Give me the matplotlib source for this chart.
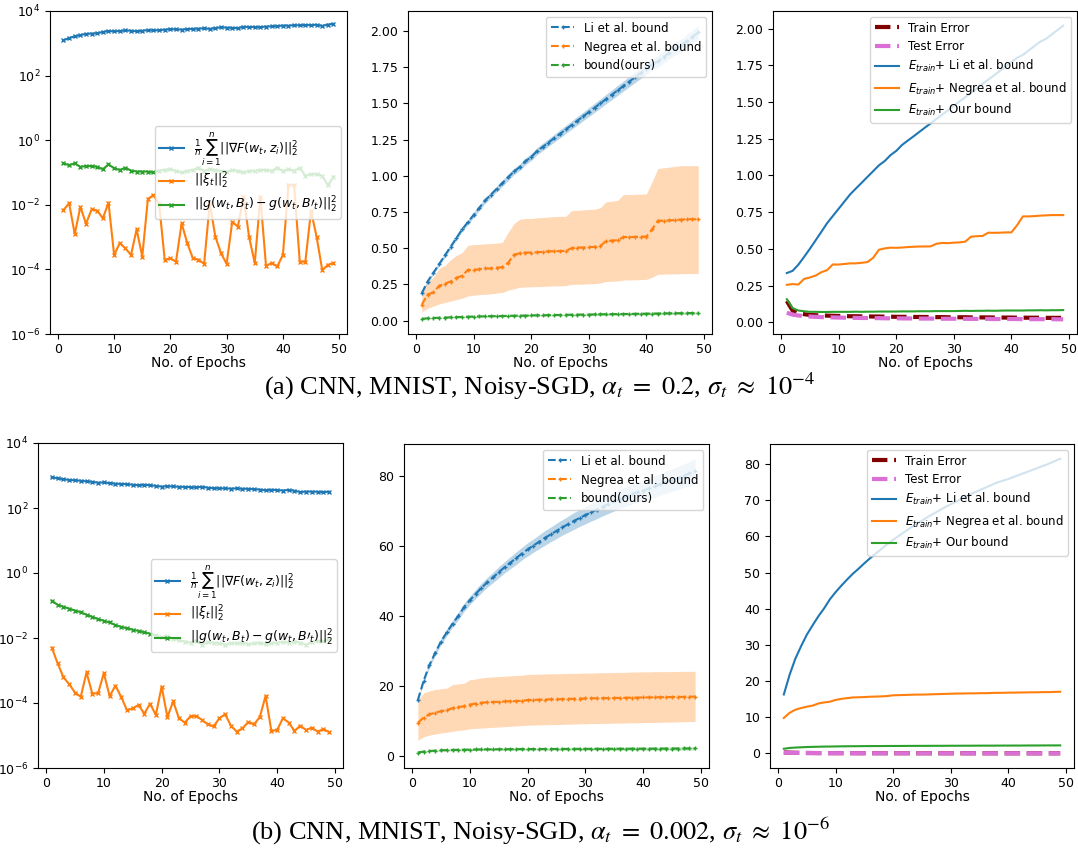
import numpy as np
import matplotlib
matplotlib.use("Agg")
import matplotlib.pyplot as plt
from matplotlib.ticker import NullLocator

# epochs on the x axis of every panel
epochs = list(range(1, 50))

# ---------------- (a) alpha_t = 0.2 ----------------
# left panel (log scale)
grad_a = [1250, 1450, 1650, 1800, 1950, 2000, 2050, 2250, 2400, 2350, 2400, 2500, 2450, 2350, 2450,
          2550, 2500, 2550, 2650, 2750, 2700, 2650, 2750, 2800, 2850, 2900, 2800, 2950, 3150, 3050,
          3000, 2950, 3250, 3200, 3200, 3150, 3300, 3350, 3400, 3550, 3500, 3650, 3600, 3700, 3650,
          3750, 3450, 3800, 4000]
xi_a = [6.9e-3, 1.12e-2, 1.23e-3, 8.7e-3, 2.6e-3, 7.2e-3, 6.6e-3, 3.8e-3, 1.17e-2, 2.8e-4,
        6.5e-4, 4.5e-4, 2.8e-4, 1.74e-3, 2.5e-4, 1.51e-2, 2.0e-2, 1.05e-2, 1.95e-4, 2.2e-4,
        1.74e-4, 2.7e-3, 6.5e-4, 2.2e-4, 2.0e-4, 1.48e-4, 1.12e-2, 1.02e-3, 3.2e-4, 1.48e-4,
        3.0e-3, 2.1e-3, 1.78e-2, 1.0e-3, 1.58e-4, 1.7e-2, 1.29e-4, 1.58e-4, 1.23e-4, 2.8e-4,
        4.1e-2, 4.1e-2, 1.74e-4, 1.74e-4, 6.5e-3, 1.02e-3, 9.5e-5, 1.38e-4, 1.58e-4]
gdiff_a = [0.19, 0.17, 0.19, 0.15, 0.158, 0.158, 0.15, 0.126, 0.178, 0.135, 0.12, 0.14, 0.115, 0.107,
           0.107, 0.107, 0.1, 0.115, 0.12, 0.126, 0.112, 0.1, 0.112, 0.12, 0.14, 0.112, 0.126, 0.12,
           0.112, 0.105, 0.12, 0.112, 0.1, 0.112, 0.112, 0.12, 0.12, 0.112, 0.14, 0.112, 0.126, 0.112,
           0.14, 0.079, 0.089, 0.089, 0.079, 0.04, 0.074]

# middle panel (bounds)
li_a = [0.19, 0.27, 0.33, 0.39, 0.45, 0.51, 0.57, 0.63, 0.68, 0.73, 0.78, 0.83, 0.87, 0.91, 0.95,
        0.99, 1.03, 1.06, 1.10, 1.13, 1.17, 1.20, 1.23, 1.26, 1.29, 1.32, 1.35, 1.38, 1.41, 1.44,
        1.47, 1.50, 1.53, 1.56, 1.59, 1.62, 1.65, 1.68, 1.71, 1.74, 1.77, 1.79, 1.82, 1.85, 1.88,
        1.90, 1.93, 1.96, 1.99]
li_sd_a = [0.01, 0.01, 0.012, 0.012, 0.014, 0.014, 0.015, 0.016, 0.017, 0.018, 0.018, 0.019, 0.02,
           0.02, 0.021, 0.022, 0.022, 0.023, 0.024, 0.024, 0.025, 0.026, 0.026, 0.027, 0.028, 0.028,
           0.029, 0.03, 0.03, 0.031, 0.032, 0.032, 0.033, 0.034, 0.035, 0.035, 0.036, 0.037, 0.038,
           0.038, 0.039, 0.04, 0.041, 0.042, 0.043, 0.044, 0.045, 0.046, 0.047]
neg_a = [0.11, 0.18, 0.195, 0.24, 0.255, 0.27, 0.295, 0.31, 0.35, 0.35, 0.355, 0.36, 0.36, 0.365,
         0.37, 0.40, 0.455, 0.465, 0.47, 0.47, 0.472, 0.475, 0.478, 0.48, 0.48, 0.482, 0.50, 0.505,
         0.505, 0.508, 0.51, 0.515, 0.55, 0.553, 0.555, 0.577, 0.577, 0.578, 0.58, 0.58, 0.63, 0.69,
         0.69, 0.692, 0.695, 0.698, 0.70, 0.70, 0.70]
neg_hi_a = [0.18, 0.27, 0.30, 0.36, 0.38, 0.42, 0.45, 0.47, 0.52, 0.525, 0.527, 0.53, 0.532, 0.535,
            0.54, 0.61, 0.67, 0.70, 0.705, 0.705, 0.71, 0.712, 0.715, 0.718, 0.72, 0.72, 0.76, 0.762,
            0.765, 0.767, 0.77, 0.78, 0.82, 0.825, 0.83, 0.87, 0.87, 0.872, 0.874, 0.875, 0.96, 1.05,
            1.055, 1.06, 1.065, 1.07, 1.07, 1.07, 1.07]
neg_lo_a = [0.06, 0.085, 0.10, 0.115, 0.125, 0.135, 0.145, 0.155, 0.17, 0.175, 0.18, 0.182, 0.185,
            0.19, 0.195, 0.21, 0.22, 0.23, 0.232, 0.234, 0.235, 0.236, 0.238, 0.24, 0.24, 0.242,
            0.25, 0.251, 0.252, 0.254, 0.256, 0.26, 0.27, 0.272, 0.274, 0.28, 0.281, 0.282, 0.283,
            0.285, 0.30, 0.32, 0.321, 0.322, 0.323, 0.324, 0.325, 0.325, 0.325]
ours_a = [0.012, 0.016, 0.018, 0.020, 0.021, 0.023, 0.024, 0.025, 0.027, 0.028, 0.029, 0.030, 0.031,
          0.031, 0.032, 0.033, 0.034, 0.035, 0.035, 0.036, 0.037, 0.037, 0.038, 0.039, 0.039, 0.040,
          0.041, 0.041, 0.042, 0.042, 0.043, 0.044, 0.044, 0.045, 0.045, 0.046, 0.046, 0.047, 0.048,
          0.048, 0.049, 0.049, 0.050, 0.050, 0.051, 0.051, 0.052, 0.052, 0.053]
ours_sd_a = [0.003, 0.003, 0.003, 0.003, 0.004, 0.004, 0.004, 0.004, 0.004, 0.004, 0.005, 0.005,
             0.005, 0.005, 0.005, 0.005, 0.005, 0.005, 0.006, 0.006, 0.006, 0.006, 0.006, 0.006,
             0.006, 0.006, 0.006, 0.007, 0.007, 0.007, 0.007, 0.007, 0.007, 0.007, 0.007, 0.007,
             0.007, 0.008, 0.008, 0.008, 0.008, 0.008, 0.008, 0.008, 0.008, 0.008, 0.008, 0.008, 0.008]

# right panel (errors)
train_a = [0.145, 0.08, 0.062, 0.055, 0.05, 0.048, 0.046, 0.045, 0.044, 0.043, 0.042, 0.041, 0.041,
           0.040, 0.040, 0.039, 0.039, 0.038, 0.038, 0.037, 0.037, 0.037, 0.036, 0.036, 0.036, 0.035,
           0.035, 0.035, 0.034, 0.034, 0.034, 0.034, 0.033, 0.033, 0.033, 0.033, 0.032, 0.032, 0.032,
           0.032, 0.031, 0.031, 0.031, 0.031, 0.031, 0.030, 0.030, 0.030, 0.030]
test_a = [0.065, 0.052, 0.046, 0.042, 0.039, 0.037, 0.035, 0.034, 0.033, 0.032, 0.031, 0.030, 0.030,
          0.029, 0.029, 0.028, 0.028, 0.027, 0.027, 0.027, 0.026, 0.026, 0.026, 0.025, 0.025, 0.025,
          0.025, 0.024, 0.024, 0.024, 0.024, 0.023, 0.023, 0.023, 0.023, 0.023, 0.022, 0.022, 0.022,
          0.022, 0.022, 0.021, 0.021, 0.021, 0.021, 0.021, 0.021, 0.020, 0.020]

# ---------------- (b) alpha_t = 0.002 ----------------
grad_b = [880, 820, 770, 730, 710, 690, 660, 640, 600, 610, 580, 560, 550, 540, 520, 500, 520, 500,
          480, 455, 470, 460, 450, 445, 440, 430, 450, 420, 410, 405, 400, 395, 400, 390, 390, 380,
          370, 350, 365, 355, 345, 360, 340, 310, 320, 320, 315, 310, 316]
xi_b = [5.0e-3, 1.66e-3, 6.2e-4, 3.8e-4, 2.1e-4, 1.55e-4, 8.7e-4, 1.95e-4, 2.0e-4, 8.3e-4,
        1.62e-4, 3.4e-4, 1.55e-4, 6.0e-5, 6.8e-5, 8.7e-5, 4.7e-5, 9.5e-5, 4.3e-5, 3.2e-4,
        3.7e-5, 1.12e-4, 3.4e-5, 2.5e-5, 3.9e-5, 4.0e-5, 3.0e-5, 2.2e-5, 1.9e-5, 3.4e-5,
        4.5e-5, 2.0e-5, 1.32e-5, 1.66e-5, 2.6e-5, 2.2e-5, 3.7e-5, 1.66e-4, 1.38e-5, 1.48e-5,
        3.4e-5, 2.5e-5, 1.38e-5, 2.0e-5, 1.48e-5, 1.74e-5, 1.32e-5, 1.58e-5, 1.26e-5]
gdiff_b = [0.14, 0.105, 0.092, 0.08, 0.07, 0.062, 0.052, 0.045, 0.038, 0.034, 0.030, 0.025, 0.022,
           0.020, 0.018, 0.0165, 0.015, 0.0135, 0.012, 0.0105, 0.0115, 0.0095, 0.0085, 0.0078,
           0.0072, 0.0082, 0.0062, 0.0075, 0.0072, 0.0068, 0.0062, 0.0070, 0.0068, 0.0072, 0.0065,
           0.0068, 0.0072, 0.0065, 0.0070, 0.0072, 0.0075, 0.0072, 0.0078, 0.0072, 0.0062, 0.0075,
           0.0082, 0.0080, 0.0090]

li_b = [16.0, 21.5, 26.0, 29.5, 32.7, 35.3, 37.8, 40.0, 42.5, 44.5, 46.3, 48.0, 49.6, 51.0, 52.5,
        53.9, 55.2, 56.5, 57.8, 59.0, 60.1, 61.2, 62.3, 63.3, 64.3, 65.3, 66.2, 67.1, 68.0, 68.8,
        69.6, 70.4, 71.2, 72.0, 72.7, 73.4, 74.1, 74.8, 75.3, 75.8, 76.4, 77.0, 77.6, 78.2, 78.8,
        79.4, 80.0, 80.7, 81.4]
li_sd_b = [0.4, 0.6, 0.7, 0.8, 0.9, 1.0, 1.0, 1.1, 1.2, 1.2, 1.3, 1.4, 1.4, 1.5, 1.6, 1.6, 1.7, 1.8,
           1.8, 1.9, 1.9, 2.0, 2.1, 2.1, 2.2, 2.2, 2.3, 2.4, 2.4, 2.5, 2.5, 2.6, 2.6, 2.7, 2.7, 2.8,
           2.8, 2.9, 2.9, 3.0, 3.0, 3.1, 3.1, 3.2, 3.2, 3.3, 3.3, 3.4, 3.5]
neg_b = [9.5, 11.0, 11.9, 12.4, 12.8, 13.1, 13.7, 14.0, 14.2, 14.7, 15.0, 15.2, 15.4, 15.45, 15.5,
         15.6, 15.65, 15.7, 15.8, 16.0, 16.05, 16.1, 16.15, 16.2, 16.2, 16.25, 16.3, 16.35, 16.4,
         16.45, 16.5, 16.5, 16.55, 16.55, 16.6, 16.6, 16.65, 16.7, 16.7, 16.75, 16.75, 16.8, 16.8,
         16.85, 16.85, 16.9, 16.9, 16.95, 17.0]
neg_hi_b = [16.0, 18.0, 18.6, 19.0, 19.2, 19.4, 20.4, 20.6, 20.8, 21.8, 22.0, 22.3, 22.5, 22.6, 22.7,
            22.8, 22.9, 23.0, 23.1, 23.3, 23.35, 23.4, 23.45, 23.5, 23.5, 23.55, 23.6, 23.6, 23.65,
            23.7, 23.7, 23.75, 23.8, 23.8, 23.85, 23.9, 23.9, 24.0, 24.0, 24.05, 24.05, 24.1, 24.1,
            24.1, 24.15, 24.15, 24.2, 24.2, 24.2]
neg_lo_b = [4.5, 5.5, 6.0, 6.3, 6.6, 6.8, 7.1, 7.3, 7.5, 7.8, 7.9, 8.0, 8.1, 8.2, 8.3, 8.4, 8.5, 8.6,
            8.7, 8.8, 8.85, 8.9, 8.95, 9.0, 9.0, 9.05, 9.1, 9.15, 9.2, 9.25, 9.3, 9.3, 9.35, 9.35,
            9.4, 9.4, 9.45, 9.5, 9.5, 9.55, 9.6, 9.6, 9.65, 9.7, 9.7, 9.75, 9.8, 9.85, 9.9]
ours_b = [1.0, 1.3, 1.45, 1.55, 1.65, 1.7, 1.75, 1.8, 1.82, 1.85, 1.88, 1.9, 1.92, 1.93, 1.95, 1.96,
          1.97, 1.98, 1.99, 2.0, 2.0, 2.01, 2.02, 2.03, 2.03, 2.04, 2.05, 2.05, 2.06, 2.07, 2.07,
          2.08, 2.08, 2.09, 2.1, 2.1, 2.1, 2.11, 2.12, 2.12, 2.13, 2.13, 2.14, 2.15, 2.15, 2.16,
          2.17, 2.17, 2.18]
ours_sd_b = [0.2, 0.2, 0.2, 0.25, 0.25, 0.25, 0.25, 0.3, 0.3, 0.3, 0.3, 0.3, 0.3, 0.3, 0.3, 0.3,
             0.3, 0.3, 0.3, 0.3, 0.3, 0.3, 0.35, 0.35, 0.35, 0.35, 0.35, 0.35, 0.35, 0.35, 0.35,
             0.35, 0.35, 0.4, 0.4, 0.4, 0.4, 0.4, 0.4, 0.4, 0.4, 0.4, 0.4, 0.4, 0.45, 0.45, 0.45,
             0.45, 0.45]

train_b = [0.3, 0.22, 0.18, 0.15, 0.13, 0.12, 0.11, 0.1, 0.095, 0.09, 0.087, 0.085, 0.082, 0.08,
           0.078, 0.076, 0.074, 0.072, 0.07, 0.069, 0.068, 0.067, 0.066, 0.065, 0.064, 0.063, 0.062,
           0.061, 0.06, 0.06, 0.059, 0.058, 0.058, 0.057, 0.057, 0.056, 0.056, 0.055, 0.055, 0.054,
           0.054, 0.053, 0.053, 0.052, 0.052, 0.052, 0.051, 0.051, 0.05]
test_b = [0.25, 0.19, 0.16, 0.14, 0.12, 0.11, 0.1, 0.095, 0.09, 0.086, 0.083, 0.08, 0.078, 0.076,
          0.074, 0.072, 0.07, 0.069, 0.068, 0.067, 0.066, 0.065, 0.064, 0.063, 0.062, 0.061, 0.06,
          0.06, 0.059, 0.058, 0.058, 0.057, 0.057, 0.056, 0.056, 0.055, 0.055, 0.054, 0.054, 0.053,
          0.053, 0.053, 0.052, 0.052, 0.052, 0.051, 0.051, 0.051, 0.05]

captions = [r"(a) CNN, MNIST, Noisy-SGD, $\alpha_t\ =\ 0.2$, $\sigma_t\ \approx\ 10^{-4}$",
            r"(b) CNN, MNIST, Noisy-SGD, $\alpha_t\ =\ 0.002$, $\sigma_t\ \approx\ 10^{-6}$"]

W, H = 1078, 848
TICK_FS = 9
LABEL_FS = 10
LEG_FS = 8.5


def box(x0, x1, y0, y1):
    # pixel box -> figure fraction
    return [x0 / W, 1 - y1 / H, (x1 - x0) / W, (y1 - y0) / H]


def left_panel(ax, grad, xi, gdiff):
    ax.plot(epochs, grad, color="C0", marker="x", ms=3, lw=1.5,
            label=r"$\frac{1}{n}\sum_{i=1}^{n}||\nabla F(w_t, z_i)||_2^2$")
    ax.plot(epochs, xi, color="C1", marker="x", ms=3, lw=1.5, label=r"$||\xi_t||_2^2$")
    ax.plot(epochs, gdiff, color="C2", marker="x", ms=3, lw=1.5,
            label=r"$||g(w_t, B_t) - g(w_t, B\prime_t)||_2^2$")
    ax.set_yscale("log")
    ax.set_ylim(1e-6, 1e4)
    ax.set_yticks([1e-6, 1e-4, 1e-2, 1e0, 1e2, 1e4])
    ax.yaxis.set_minor_locator(NullLocator())
    ax.set_xticks([0, 10, 20, 30, 40, 50])
    ax.legend(loc="center right", fontsize=9, labelspacing=0.3, borderpad=0.3)


def mid_panel(ax, li, li_sd, neg, neg_lo, neg_hi, ours, ours_sd):
    li = np.array(li)
    li_sd = np.array(li_sd)
    ours = np.array(ours)
    ours_sd = np.array(ours_sd)
    ax.plot(epochs, li, color="C0", ls="--", marker="+", ms=3, lw=1.5, label="Li et al. bound")
    ax.fill_between(epochs, li - li_sd, li + li_sd, color="C0", alpha=0.3, lw=0)
    ax.plot(epochs, neg, color="C1", ls="--", marker="+", ms=3, lw=1.5, label="Negrea et al. bound")
    ax.fill_between(epochs, neg_lo, neg_hi, color="C1", alpha=0.3, lw=0)
    ax.plot(epochs, ours, color="C2", ls="--", marker="+", ms=3, lw=1.5, label="bound(ours)")
    ax.fill_between(epochs, ours - ours_sd, ours + ours_sd, color="C2", alpha=0.3, lw=0)
    ax.set_xticks([0, 10, 20, 30, 40, 50])
    ax.legend(loc="upper right", fontsize=LEG_FS)


def right_panel(ax, train, test, li, neg, ours):
    train = np.array(train)
    ax.plot(epochs, train, color="maroon", ls="--", lw=3, label="Train Error")
    ax.plot(epochs, test, color="orchid", ls="--", lw=3, label="Test Error")
    ax.plot(epochs, train + np.array(li), color="C0", lw=1.5, label=r"$E_{train}$+ Li et al. bound")
    ax.plot(epochs, train + np.array(neg), color="C1", lw=1.5,
            label=r"$E_{train}$+ Negrea et al. bound")
    ax.plot(epochs, train + np.array(ours), color="C2", lw=1.5, label=r"$E_{train}$+ Our bound")
    ax.set_xticks([0, 10, 20, 30, 40, 50])
    ax.legend(loc="upper right", fontsize=LEG_FS, labelspacing=0.45)


fig = plt.figure(figsize=(W / 100, H / 100), dpi=100)

ax1 = fig.add_axes(box(50, 347, 11, 334))
ax2 = fig.add_axes(box(408, 712, 11, 334))
ax3 = fig.add_axes(box(773, 1077, 11, 334))
ax4 = fig.add_axes(box(38, 343, 443, 768))
ax5 = fig.add_axes(box(404, 709, 444, 768))
ax6 = fig.add_axes(box(770, 1074, 444, 768))

left_panel(ax1, grad_a, xi_a, gdiff_a)
mid_panel(ax2, li_a, li_sd_a, neg_a, neg_lo_a, neg_hi_a, ours_a, ours_sd_a)
right_panel(ax3, train_a, test_a, li_a, neg_a, ours_a)
left_panel(ax4, grad_b, xi_b, gdiff_b)
mid_panel(ax5, li_b, li_sd_b, neg_b, neg_lo_b, neg_hi_b, ours_b, ours_sd_b)
right_panel(ax6, train_b, test_b, li_b, neg_b, ours_b)

for ax in [ax1, ax2, ax3, ax4, ax5, ax6]:
    ax.set_xlabel("No. of Epochs", fontsize=LABEL_FS, labelpad=0)
    ax.tick_params(labelsize=TICK_FS)
    ax.tick_params(axis="x", pad=3)

fig.text(540 / W, 1 - 395 / H, captions[0], ha="center", va="baseline", fontsize=19,
         family="Liberation Serif", math_fontfamily="stix")
fig.text(540 / W, 1 - 840 / H, captions[1], ha="center", va="baseline", fontsize=19,
         family="Liberation Serif", math_fontfamily="stix")

fig.savefig("out.png", dpi=100)
